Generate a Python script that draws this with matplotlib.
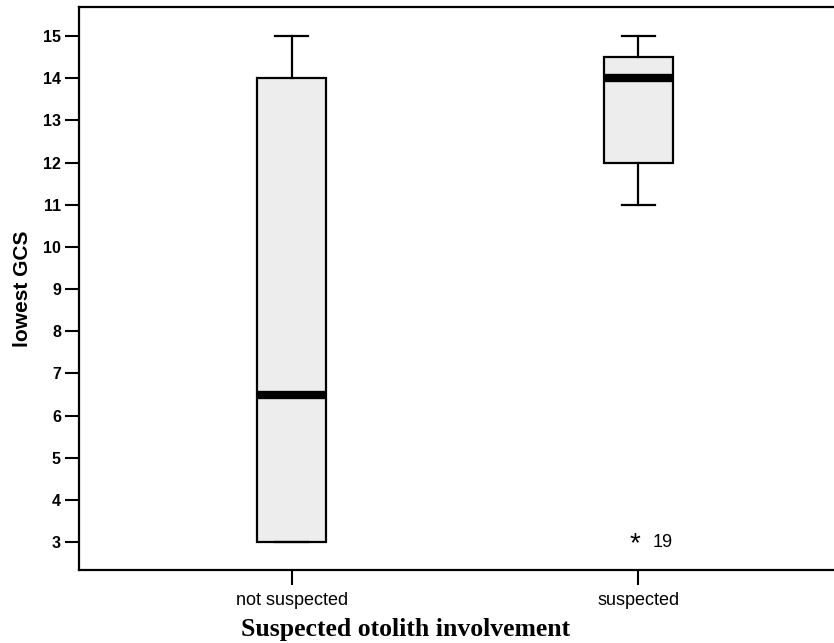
import matplotlib.pyplot as plt

# box summary
groups = ['not suspected', 'suspected']
whislo = [3, 11]
q1 = [3, 12]
med = [6.5, 14]
q3 = [14, 14.5]
whishi = [15, 15]
outliers = [[], [3]]
outlier_ids = [[], ['19']]
yticks = list(range(3, 16))

fig = plt.figure(figsize=(8.34, 6.43), dpi=100)
ax = fig.add_axes([0.0947, 0.1135, 0.92, 0.8756])

stats = []
for i, g in enumerate(groups):
    stats.append(dict(label=g, whislo=whislo[i], q1=q1[i], med=med[i],
                      q3=q3[i], whishi=whishi[i], fliers=[]))

ax.bxp(stats, positions=[1, 2], widths=0.2, patch_artist=True,
       showfliers=False,
       boxprops=dict(facecolor='#ededed', edgecolor='black', linewidth=1.6),
       medianprops=dict(color='black', linewidth=6, solid_capstyle='butt'),
       whiskerprops=dict(color='black', linewidth=1.6),
       capprops=dict(color='black', linewidth=1.6),
       capwidths=0.095)

# extreme values drawn as asterisks with case number
for i, (vals, ids) in enumerate(zip(outliers, outlier_ids)):
    for v, lab in zip(vals, ids):
        ax.text(i + 0.99, v - 0.05, '*', ha='center', va='center', fontsize=20,
                family='Liberation Sans')
        ax.text(i + 1.04, v, lab, ha='left', va='center', fontsize=13,
                family='Liberation Sans')

ax.set_xlim(0.386, 2.6)
ax.set_ylim(2.34, 15.69)
ax.set_yticks(yticks)
ax.set_yticklabels([str(t) for t in yticks], family='Liberation Sans',
                   fontsize=11.5, fontweight='bold')
ax.set_xticks([1, 2])
ax.set_xticklabels(groups, family='Liberation Sans', fontsize=13)
ax.tick_params(axis='y', length=10, width=1.5, pad=3)
ax.tick_params(axis='x', length=11, width=1.5, pad=5)

for s in ax.spines.values():
    s.set_linewidth(1.6)
ax.spines['right'].set_visible(False)

ax.set_ylabel('lowest GCS', family='Liberation Sans', fontsize=15,
              fontweight='bold')
ax.yaxis.set_label_coords(-0.061, 0.5)
ax.set_xlabel('Suspected otolith involvement', family='Liberation Serif',
              fontsize=18.5, fontweight='bold')
ax.xaxis.set_label_coords(0.425, -0.085)

fig.savefig('out.png', dpi=100)
